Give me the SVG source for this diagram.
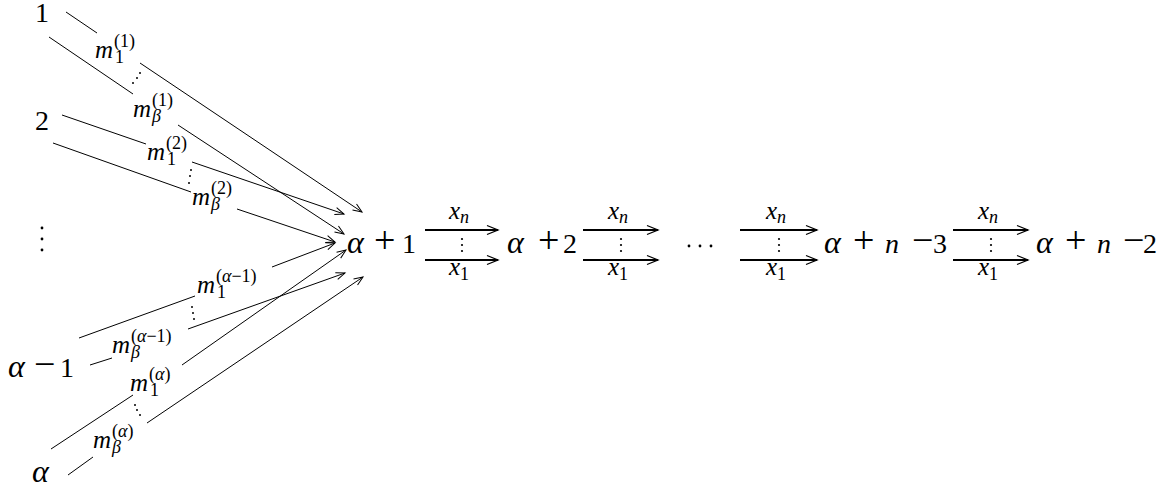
<svg xmlns="http://www.w3.org/2000/svg" width="1170" height="491" viewBox="0 0 1170 491" font-family="Liberation Serif, serif">
<style>
.e{fill:none;stroke:#000;stroke-width:1}
.a{marker-end:url(#ah)}
.r{fill:none;stroke:#000;stroke-width:2;marker-end:url(#ah2)}
.d{fill:#000}
</style>
<defs>
<marker id="ah" markerUnits="userSpaceOnUse" viewBox="-11 -6 13 12" refX="0" refY="0" markerWidth="13" markerHeight="12" orient="auto" overflow="visible">
<path d="M-9,-3.6 L0,0 L-9,3.6" fill="none" stroke="#000" stroke-width="1"/>
</marker>
<marker id="ah2" markerUnits="userSpaceOnUse" viewBox="-13 -7 15 14" refX="0" refY="0" markerWidth="15" markerHeight="14" orient="auto" overflow="visible">
<path d="M-11,-4.5 L0,0 L-11,4.5" fill="none" stroke="#000" stroke-width="1.3"/>
</marker>
</defs>
<rect width="1170" height="491" fill="#fff"/>

<g id="node-1"><text x="35" y="22" font-family="Liberation Serif, serif" font-size="28">1</text></g>
<g id="node-2"><text x="35" y="130" font-family="Liberation Serif, serif" font-size="28">2</text></g>
<g id="node-vdots"><circle class="d" cx="42" cy="228" r="1.4"/><circle class="d" cx="42" cy="239" r="1.4"/><circle class="d" cx="42" cy="250" r="1.4"/></g>
<g id="node-alpha-1"><text y="377" font-family="Liberation Serif, serif" font-size="28"><tspan x="8" font-size="32" font-style="italic">α</tspan><tspan x="34" font-size="38">−</tspan><tspan x="60">1</tspan></text></g>
<g id="node-alpha"><text x="32" y="482" font-family="Liberation Serif, serif" font-size="32" font-style="italic">α</text></g>
<g id="node-alpha+1"><text y="253" font-family="Liberation Serif, serif" font-size="28"><tspan x="347" font-size="32" font-style="italic">α</tspan><tspan x="374" font-size="38">+</tspan><tspan x="402">1</tspan></text></g>
<g id="node-alpha+2"><text y="253" font-family="Liberation Serif, serif" font-size="28"><tspan x="507" font-size="32" font-style="italic">α</tspan><tspan x="538" font-size="38">+</tspan><tspan x="563">2</tspan></text></g>
<g id="node-cdots"><circle class="d" cx="689" cy="246" r="1.4"/><circle class="d" cx="700" cy="246" r="1.4"/><circle class="d" cx="711" cy="246" r="1.4"/></g>
<g id="node-alpha+n-3"><text y="253" font-family="Liberation Serif, serif" font-size="28"><tspan x="824" font-size="32" font-style="italic">α</tspan><tspan x="853" font-size="38">+</tspan><tspan x="885" font-style="italic">n</tspan><tspan x="912" font-size="38">−</tspan><tspan x="933">3</tspan></text></g>
<g id="node-alpha+n-2"><text y="253" font-family="Liberation Serif, serif" font-size="28"><tspan x="1036" font-size="32" font-style="italic">α</tspan><tspan x="1065" font-size="38">+</tspan><tspan x="1097" font-style="italic">n</tspan><tspan x="1123" font-size="38">−</tspan><tspan x="1143">2</tspan></text></g>

<g id="connectors" font-family="Liberation Serif, serif">
<g id="e-1-1">
<line class="e" x1="66" y1="12" x2="97" y2="33"/>
<line class="e a" x1="140" y1="63" x2="362" y2="212"/>
<text x="95" y="58" font-family="Liberation Serif, serif" font-size="25" font-style="italic">m</text><text x="114" y="47" font-family="Liberation Serif, serif" font-size="18">(1)</text><text x="115" y="63" font-family="Liberation Serif, serif" font-size="18">1</text>
</g>
<g id="e-1-b">
<line class="e" x1="49" y1="37" x2="133" y2="94"/>
<line class="e a" x1="178" y1="125" x2="344" y2="234"/>
<circle class="d" cx="140" cy="73" r="1"/><circle class="d" cx="137" cy="78" r="1"/><circle class="d" cx="133" cy="83" r="1"/>
<text x="133" y="117" font-family="Liberation Serif, serif" font-size="25" font-style="italic">m</text><text x="152" y="106" font-family="Liberation Serif, serif" font-size="18">(1)</text><text x="152" y="122" font-family="Liberation Serif, serif" font-size="18" font-style="italic">β</text>
</g>
<g id="e-2-1">
<line class="e" x1="62" y1="115" x2="146" y2="144"/>
<line class="e a" x1="192" y1="162" x2="344" y2="214"/>
<text x="147" y="160" font-family="Liberation Serif, serif" font-size="25" font-style="italic">m</text><text x="166" y="149" font-family="Liberation Serif, serif" font-size="18">(2)</text><text x="167" y="165" font-family="Liberation Serif, serif" font-size="18">1</text>
</g>
<g id="e-2-b">
<line class="e" x1="53" y1="143" x2="191" y2="192"/>
<line class="e a" x1="237" y1="209" x2="335" y2="242"/>
<circle class="d" cx="191" cy="170" r="1"/><circle class="d" cx="190" cy="176" r="1"/><circle class="d" cx="189" cy="183" r="1"/>
<text x="192" y="205" font-family="Liberation Serif, serif" font-size="25" font-style="italic">m</text><text x="211" y="194" font-family="Liberation Serif, serif" font-size="18">(2)</text><text x="211" y="210" font-family="Liberation Serif, serif" font-size="18" font-style="italic">β</text>
</g>
<g id="e-a1-1">
<line class="e" x1="79" y1="338" x2="195" y2="296"/>
<line class="e a" x1="272" y1="267" x2="335" y2="243"/>
<text x="197" y="293" font-family="Liberation Serif, serif" font-size="25" font-style="italic">m</text><text x="216" y="282" font-family="Liberation Serif, serif" font-size="18">(<tspan font-style="italic">α</tspan>−1)</text><text x="217" y="298" font-family="Liberation Serif, serif" font-size="18">1</text>
</g>
<g id="e-a1-b">
<line class="e" x1="90" y1="365" x2="112" y2="358"/>
<line class="e a" x1="188" y1="329" x2="345" y2="273"/>
<circle class="d" cx="192" cy="307" r="1"/><circle class="d" cx="193" cy="313" r="1"/><circle class="d" cx="194" cy="319" r="1"/>
<text x="112" y="353" font-family="Liberation Serif, serif" font-size="25" font-style="italic">m</text><text x="131" y="342" font-family="Liberation Serif, serif" font-size="18">(<tspan font-style="italic">α</tspan>−1)</text><text x="131" y="358" font-family="Liberation Serif, serif" font-size="18" font-style="italic">β</text>
</g>
<g id="e-a-1">
<line class="e" x1="51" y1="449" x2="133" y2="395"/>
<line class="e a" x1="182" y1="365" x2="346" y2="250"/>
<text x="130" y="391" font-family="Liberation Serif, serif" font-size="25" font-style="italic">m</text><text x="149" y="380" font-family="Liberation Serif, serif" font-size="18">(<tspan font-style="italic">α</tspan>)</text><text x="150" y="396" font-family="Liberation Serif, serif" font-size="18">1</text>
</g>
<g id="e-a-b">
<line class="e" x1="68" y1="475" x2="93" y2="457"/>
<line class="e a" x1="147" y1="423" x2="363" y2="277"/>
<circle class="d" cx="135" cy="405" r="1"/><circle class="d" cx="137" cy="410" r="1"/><circle class="d" cx="140" cy="415" r="1"/>
<text x="93" y="448" font-family="Liberation Serif, serif" font-size="25" font-style="italic">m</text><text x="112" y="437" font-family="Liberation Serif, serif" font-size="18">(<tspan font-style="italic">α</tspan>)</text><text x="112" y="453" font-family="Liberation Serif, serif" font-size="18" font-style="italic">β</text>
</g>

<g id="e-p1">
<line class="r" x1="425" y1="230" x2="498" y2="230"/>
<line class="r" x1="425" y1="260" x2="498" y2="260"/>
<text x="449" y="219" font-family="Liberation Serif, serif" font-size="25" font-style="italic">x</text><text x="460" y="223" font-family="Liberation Serif, serif" font-size="18" font-style="italic">n</text>
<circle class="d" cx="462" cy="239" r="1.1"/><circle class="d" cx="462" cy="245" r="1.1"/><circle class="d" cx="462" cy="251" r="1.1"/>
<text x="449" y="275" font-family="Liberation Serif, serif" font-size="25" font-style="italic">x</text><text x="460" y="280" font-family="Liberation Serif, serif" font-size="18">1</text>
</g>
<g id="e-p2">
<line class="r" x1="583" y1="230" x2="658" y2="230"/>
<line class="r" x1="583" y1="260" x2="658" y2="260"/>
<text x="608" y="219" font-family="Liberation Serif, serif" font-size="25" font-style="italic">x</text><text x="619" y="223" font-family="Liberation Serif, serif" font-size="18" font-style="italic">n</text>
<circle class="d" cx="621" cy="239" r="1.1"/><circle class="d" cx="621" cy="245" r="1.1"/><circle class="d" cx="621" cy="251" r="1.1"/>
<text x="608" y="275" font-family="Liberation Serif, serif" font-size="25" font-style="italic">x</text><text x="619" y="280" font-family="Liberation Serif, serif" font-size="18">1</text>
</g>
<g id="e-p3">
<line class="r" x1="740" y1="230" x2="817" y2="230"/>
<line class="r" x1="740" y1="260" x2="817" y2="260"/>
<text x="766" y="219" font-family="Liberation Serif, serif" font-size="25" font-style="italic">x</text><text x="777" y="223" font-family="Liberation Serif, serif" font-size="18" font-style="italic">n</text>
<circle class="d" cx="779" cy="239" r="1.1"/><circle class="d" cx="779" cy="245" r="1.1"/><circle class="d" cx="779" cy="251" r="1.1"/>
<text x="766" y="275" font-family="Liberation Serif, serif" font-size="25" font-style="italic">x</text><text x="777" y="280" font-family="Liberation Serif, serif" font-size="18">1</text>
</g>
<g id="e-p4">
<line class="r" x1="953" y1="230" x2="1028" y2="230"/>
<line class="r" x1="953" y1="260" x2="1028" y2="260"/>
<text x="978" y="219" font-family="Liberation Serif, serif" font-size="25" font-style="italic">x</text><text x="989" y="223" font-family="Liberation Serif, serif" font-size="18" font-style="italic">n</text>
<circle class="d" cx="991" cy="239" r="1.1"/><circle class="d" cx="991" cy="245" r="1.1"/><circle class="d" cx="991" cy="251" r="1.1"/>
<text x="978" y="275" font-family="Liberation Serif, serif" font-size="25" font-style="italic">x</text><text x="989" y="280" font-family="Liberation Serif, serif" font-size="18">1</text>
</g>
</g>
</svg>
